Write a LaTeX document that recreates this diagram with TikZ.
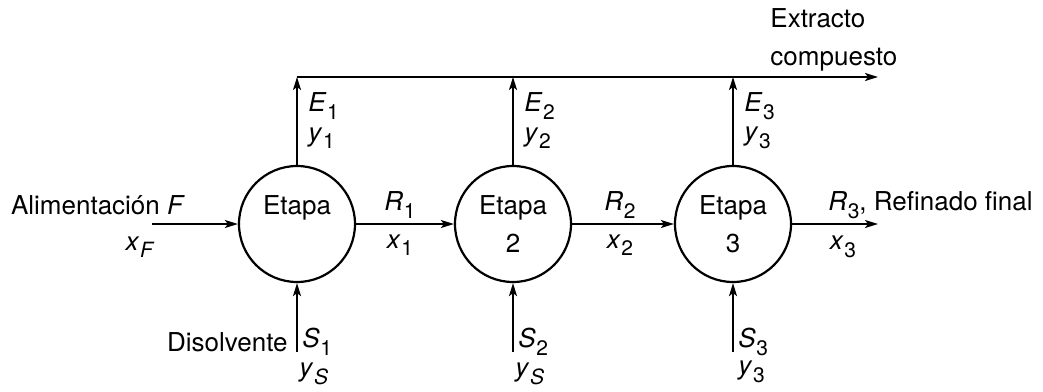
\documentclass[tikz,border=0pt]{standalone}
\usepackage{fontspec}
\setmainfont{TeX Gyre Heros}
\usetikzlibrary{arrows.meta}
\newcommand\qv[2]{\textit{#1}\kern0.3pt\raisebox{-0.55ex}{\fontsize{10.5}{10.5}\selectfont #2}}
\begin{document}
\begin{tikzpicture}[x=0.5pt,y=-0.5pt,
  font=\fontsize{13}{19}\selectfont,
  stage/.style={circle,draw,line width=1.1pt,minimum size=58pt,inner sep=0pt,align=center},
  flow/.style={line width=0.9pt,-{Stealth[length=6.5pt,width=4pt,inset=1.5pt]}},
  lbl/.style={inner sep=0pt}]
\useasboundingbox (0,0) rectangle (1043,391);
% stages
\node[stage] (s1) at (297,224) {Etapa\\\phantom{1}};
\node[stage] (s2) at (513,224) {Etapa\\2};
\node[stage] (s3) at (733,224) {Etapa\\3};
% coordinates
\coordinate (t1) at (297,77);
\coordinate (t2) at (513,77);
\coordinate (t3) at (733,77);
\coordinate (tend) at (878,77);
\coordinate (fin) at (152,224);
\coordinate (rout) at (878,224);
\coordinate (b1) at (297,352);
\coordinate (b2) at (513,352);
\coordinate (b3) at (733,352);
% extract header
\draw[flow] (t1) -- (tend);
\draw[flow] (s1.north) -- (t1);
\draw[flow] (s2.north) -- (t2);
\draw[flow] (s3.north) -- (t3);
% raffinate line
\draw[flow] (fin) -- (s1.west);
\draw[flow] (s1.east) -- (s2.west);
\draw[flow] (s2.east) -- (s3.west);
\draw[flow] (s3.east) -- (rout);
% solvent
\draw[flow] (b1) -- (s1.south);
\draw[flow] (b2) -- (s2.south);
\draw[flow] (b3) -- (s3.south);
% labels
\node[lbl,anchor=west,align=left] (ext) at (770,40) {Extracto\\compuesto};
\node[lbl] (feed) at (98,205) {Alimentación \textit{F}};
\node[lbl] (xf) at (140,247) {\qv{x}{\textit{F}}};
\node[lbl,anchor=west] (e1) at (308,106) {\qv{E}{1}};
\node[lbl,anchor=west] (y1) at (308,138) {\qv{y}{1}};
\node[lbl,anchor=west] (e2) at (524,106) {\qv{E}{2}};
\node[lbl,anchor=west] (y2) at (524,138) {\qv{y}{2}};
\node[lbl,anchor=west] (e3) at (744,106) {\qv{E}{3}};
\node[lbl,anchor=west] (y3) at (744,138) {\qv{y}{3}};
\node[lbl] (r1) at (400,205) {\qv{R}{1}};
\node[lbl] (x1) at (400,245) {\qv{x}{1}};
\node[lbl] (r2) at (620,205) {\qv{R}{2}};
\node[lbl] (x2) at (620,245) {\qv{x}{2}};
\node[lbl,anchor=west] (r3) at (828,205) {\qv{R}{3}, Refinado final};
\node[lbl] (x3) at (843,247) {\qv{x}{3}};
\node[lbl,anchor=east] (dis) at (288,342) {Disolvente};
\node[lbl,anchor=west] (sv1) at (302,342) {\qv{S}{1}};
\node[lbl,anchor=west] (ys1) at (299,374) {\qv{y}{\textit{S}}};
\node[lbl,anchor=west] (sv2) at (518,342) {\qv{S}{2}};
\node[lbl,anchor=west] (ys2) at (515,374) {\qv{y}{\textit{S}}};
\node[lbl,anchor=west] (sv3) at (738,342) {\qv{S}{3}};
\node[lbl,anchor=west] (ys3) at (738,372) {\qv{y}{3}};
\end{tikzpicture}
\end{document}
